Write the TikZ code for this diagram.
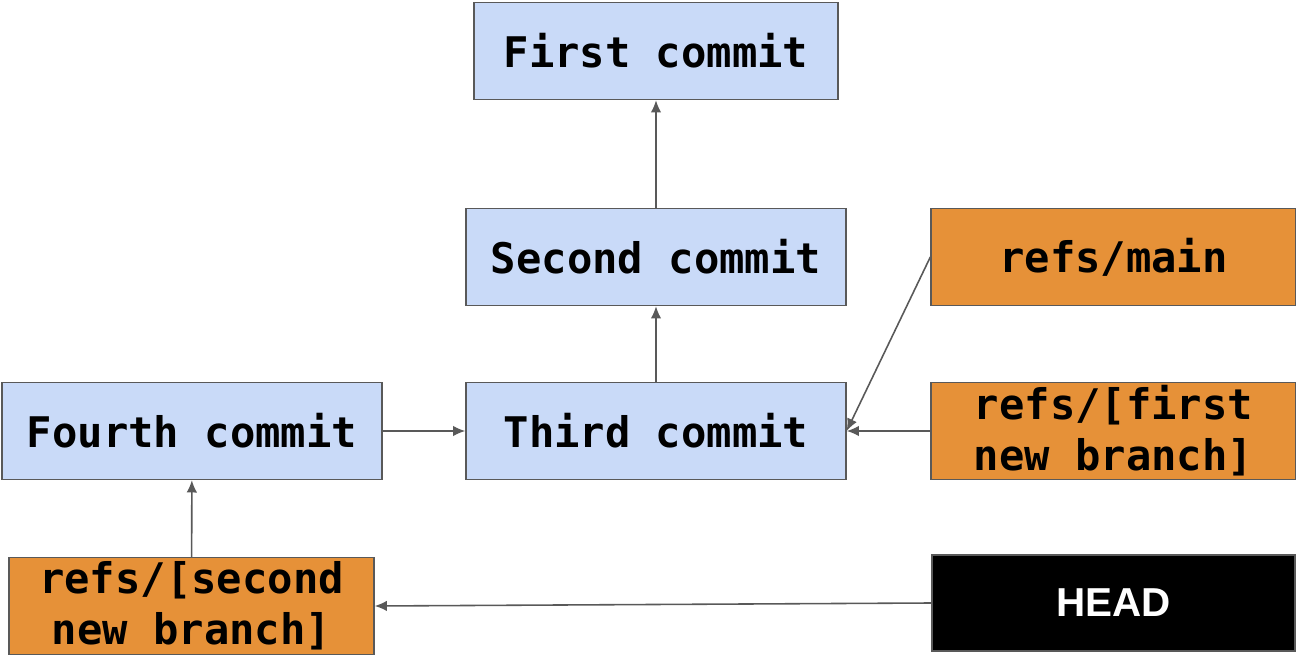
\documentclass[tikz,border=0pt]{standalone}
\usepackage{fontspec}
\usetikzlibrary{arrows.meta}
\newfontfamily\monobold{DejaVu Sans Mono}
\newfontfamily\headfont{Liberation Sans}
\definecolor{commitblue}{HTML}{C9DAF8}
\definecolor{reforange}{HTML}{E69138}
\definecolor{edgegray}{HTML}{595959}
\tikzstyle{commit} = [rectangle, minimum width=7.6cm, minimum height=1.94cm, text centered, draw=edgegray, line width=0.8pt, fill=commitblue, font=\monobold\bfseries\fontsize{24}{29}\selectfont]
\tikzstyle{ref} = [rectangle, minimum width=7.3cm, minimum height=1.94cm, text centered, align=center, inner sep=0pt, draw=edgegray, line width=0.8pt, fill=reforange, font=\monobold\bfseries\fontsize{24}{29}\selectfont]
\tikzstyle{head} = [rectangle, minimum width=7.26cm, minimum height=1.92cm, text centered, draw=edgegray, line width=0.8pt, fill=black, text=white, font=\headfont\bfseries\fontsize{23}{27}\selectfont]
\tikzstyle{arrow} = [line width=0.9pt, draw=edgegray, -{Latex[length=7pt, width=6pt]}]

\begin{document}
\begin{tikzpicture}[x=0.02cm, y=-0.02cm]
\useasboundingbox (0,0) rectangle (1296,655);

%% NODES

\node (c1) [commit, minimum width=7.28cm] at (656,51) {First commit};
\node (c2) [commit] at (656,257) {Second commit};
\node (c3) [commit] at (656,431) {Third commit};
\node (c4) [commit] at (192,431) {Fourth commit};
\node (main) [ref] at (1113.5,257) {refs/main};
\node (br1) [ref] at (1113.5,431) {refs/[first\\new branch]};
\node (br2) [ref] at (191.5,606) {refs/[second\\new branch]};
\node (head) [head] at (1113.5,603) {HEAD};

%% ARROWS

\draw [arrow] (c2) -- (c1);
\draw [arrow] (c3) -- (c2);
\draw [arrow] (c4) -- (c3);
\draw [arrow] (main.west) -- (c3.east);
\draw [arrow] (br1) -- (c3);
\draw [arrow] (br2) -- (c4);
\draw [arrow] (head.west) -- (br2.east);

\end{tikzpicture}
\end{document}
